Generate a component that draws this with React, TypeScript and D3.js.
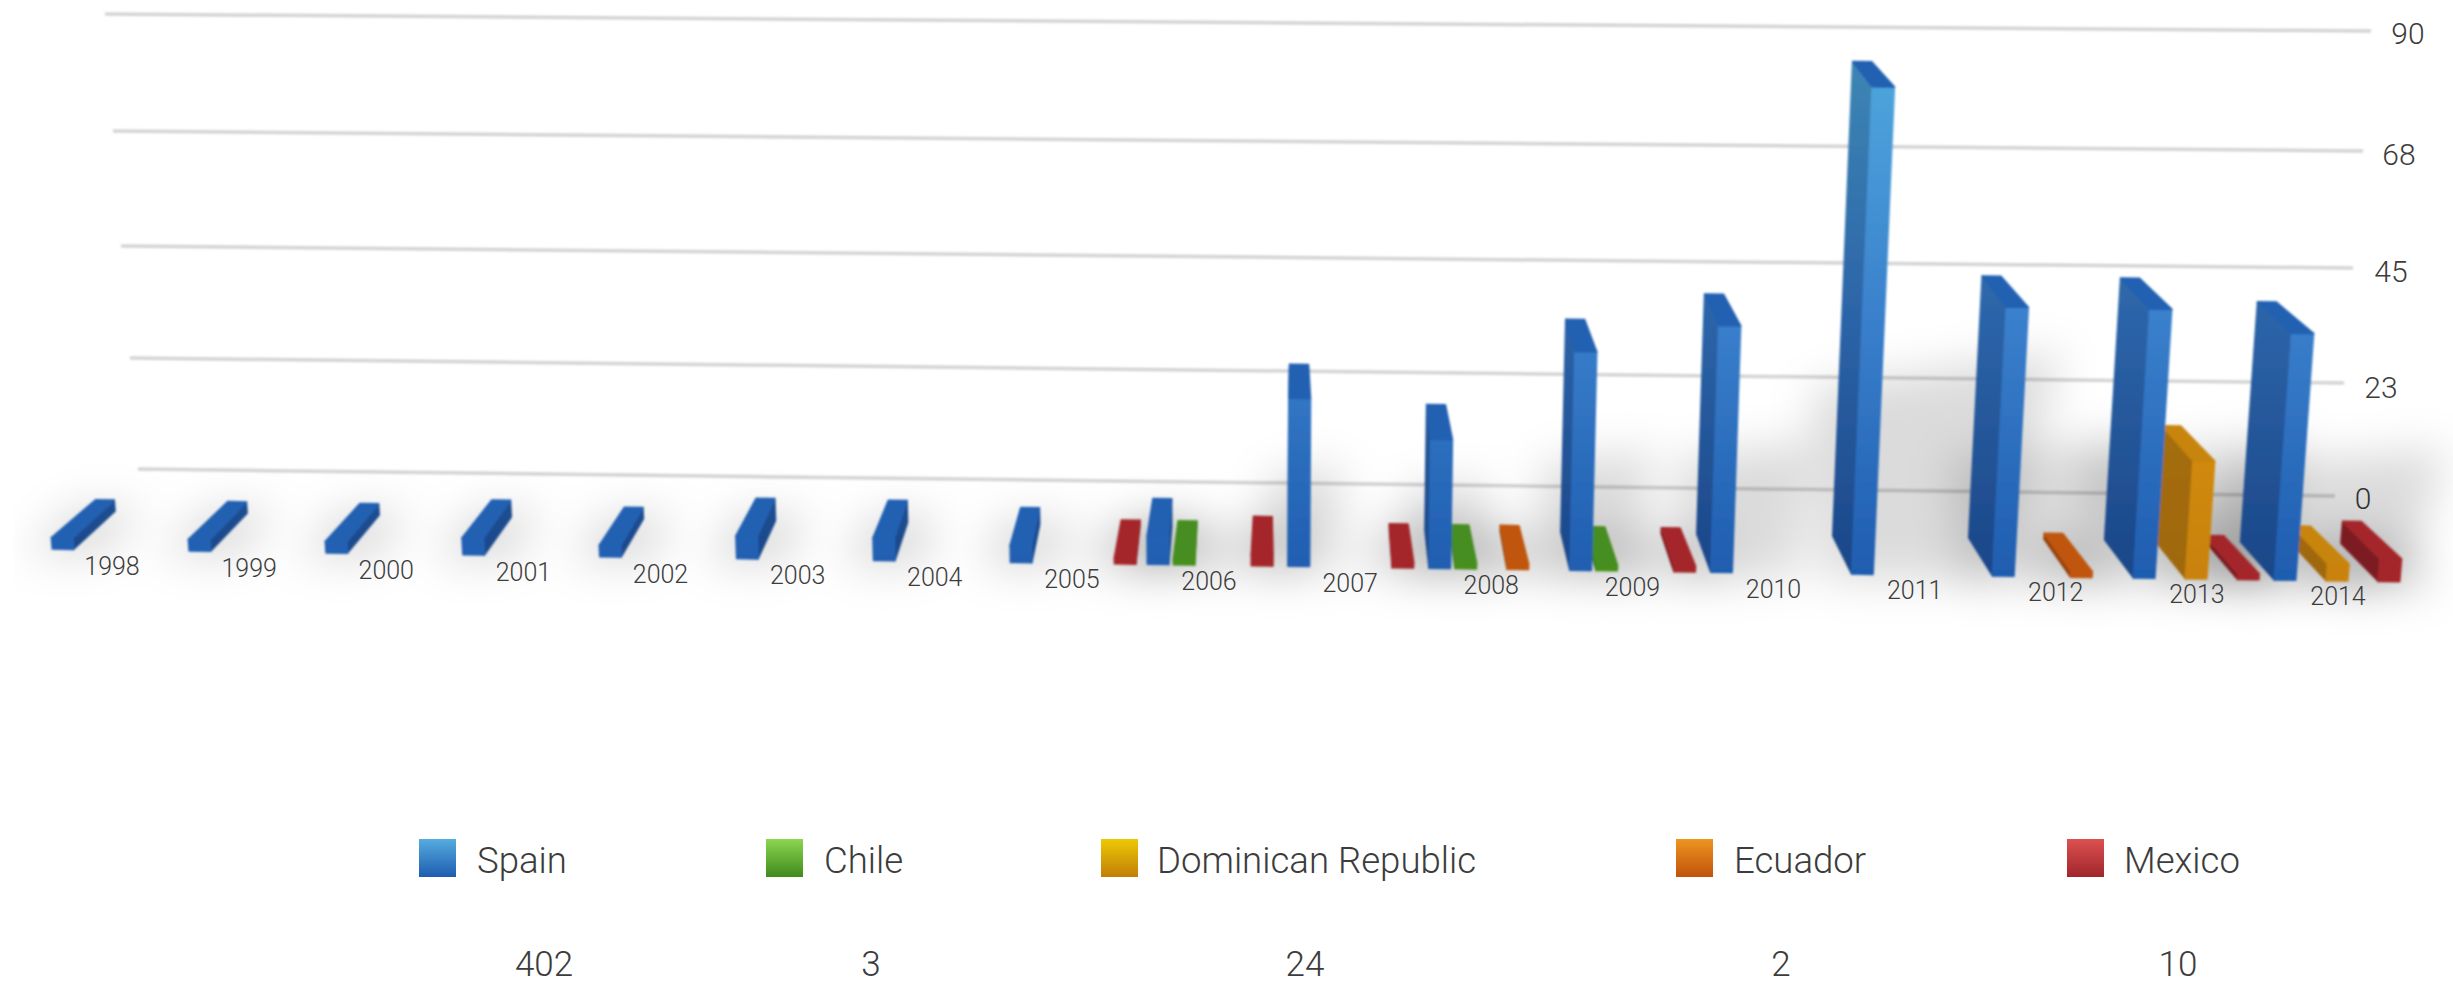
import * as d3 from "d3";

const years = [1998, 1999, 2000, 2001, 2002, 2003, 2004, 2005, 2006, 2007, 2008, 2009, 2010, 2011, 2012, 2013, 2014];
const spain = [2, 2, 2, 3, 2, 4, 4, 3, 5, 30, 23, 39, 44, 87, 48, 48, 44];
const chile = [0, 0, 0, 0, 0, 0, 0, 0, 1, 0, 1, 1, 0, 0, 0, 0, 0];
const dominican = [0, 0, 0, 0, 0, 0, 0, 0, 0, 0, 0, 0, 0, 0, 0, 21, 3];
const ecuador = [0, 0, 0, 0, 0, 0, 0, 0, 0, 0, 1, 0, 0, 0, 1, 0, 0];
const mexico = [0, 0, 0, 0, 0, 0, 0, 1, 2, 1, 0, 1, 0, 0, 0, 1, 4];
const seriesNames = ["Spain", "Chile", "Dominican Republic", "Ecuador", "Mexico"];
const seriesTotals = [402, 3, 24, 2, 10];
const axisTicks = [0, 22.5, 45, 67.5, 90];
const axisLabels = ["0", "23", "45", "68", "90"];

const seriesValues = [spain, chile, dominican, ecuador, mexico];

const W = 2453;
const H = 986;
const FONT = "Roboto, 'Liberation Sans', sans-serif";

// front / side / top colours per series
const palette = [
	{ front: ["#4fa8dd", "#3a80cc", "#1f5db0"], side: ["#3d86b4", "#2c64a8", "#1b4688"], top: "#2361b2", swatch: ["#55acdf", "#1f5cb0"] },
	{ front: ["#5fae30", "#4f9a26", "#47901f"], side: ["#3c7a1c", "#37741a", "#33701a"], top: "#478e20", swatch: ["#8cd650", "#3f8a1e"] },
	{ front: ["#e0a01a", "#d8931a", "#c9820a"], side: ["#b07a12", "#a87210", "#a0680c"], top: "#c88510", swatch: ["#ecc905", "#c27e08"] },
	{ front: ["#d8681c", "#cc5e14", "#c0560f"], side: ["#a24c10", "#9a460d", "#94420c"], top: "#c05610", swatch: ["#ee9520", "#bf530c"] },
	{ front: ["#b83034", "#ad2b2e", "#a5282b"], side: ["#8a2225", "#821f22", "#7b1e20"], top: "#a5282b", swatch: ["#dd5050", "#a0262b"] },
];

// perspective of the scene
const centerX = 1283;
const depthConverge = 0.035;
const leanOrigin = 1230;
const leanRate = 6.8e-5;
const barWidth = 21;
const slotStep = 26;

const yearX = d3.scaleLinear().domain([1998, 2006, 2014]).range([112, 1209, 2338]);
const slotStart = d3.scaleLinear().domain([1998, 2014]).range([-49, -53]);
const labelY = d3.scaleLinear().domain([1998, 2014]).range([575, 605]);
const groundY = d3.scaleLinear().domain([64, 2294]).range([549, 580]);
const heightPx = d3.scaleLinear().domain([0, 90]).range([0, 504]);

const wallLeftX = d3.scaleLinear().domain(axisTicks).range([138, 130, 121, 113, 105]);
const wallLeftY = d3.scaleLinear().domain(axisTicks).range([469, 358, 246, 131, 14]);
const wallRightX = d3.scaleLinear().domain(axisTicks).range([2335, 2344, 2353, 2363, 2371]);
const wallRightY = d3.scaleLinear().domain(axisTicks).range([496, 383, 268, 151, 31]);
const tickLabelX = d3.scaleLinear().domain(axisTicks).range([2363, 2381, 2391, 2399, 2408]);
const tickLabelY = d3.scaleLinear().domain(axisTicks).range([498, 387, 271, 154, 33]);

const legendSwatchX = [419, 766, 1101, 1676, 2067];
const legendTextX = [477, 824, 1157, 1734, 2124];
const totalX = [544, 871, 1305, 1781, 2178];

// side: -0.5 / 0.5 across the bar, d: 0 front, 1 back
const project = (cx: number, value: number, side: number, d: number): [number, number] => {
	const h = heightPx(value);
	const x = cx + side * barWidth * (1 - 0.1 * d);
	const lean = x + (x - leanOrigin) * leanRate * h;
	const yTop = groundY(cx + side * barWidth) - h;
	const depthY = 38 - 0.027 * h;
	return [lean + (centerX - lean) * depthConverge * d, yTop - depthY * d];
};

const poly = d3.line();

type Bar = { year: number; series: number; value: number; cx: number };

const bars: Bar[] = [];
seriesValues.forEach((values, series) => {
	values.forEach((value, i) => {
		if (value > 0) {
			bars.push({ year: years[i], series, value, cx: yearX(years[i]) + slotStart(years[i]) + series * slotStep });
		}
	});
});
bars.sort((a, b) => Math.abs(b.cx - centerX) - Math.abs(a.cx - centerX));

const shadowPath = (b: Bar) => {
	const h = heightPx(b.value);
	const g0 = project(b.cx, 0, -0.5, 0);
	const g1 = project(b.cx, 0, 0.5, 0);
	const g2 = project(b.cx, 0, 0.5, 1);
	const g3 = project(b.cx, 0, -0.5, 1);
	const reach = 0.38 * h;
	const drift = ((b.cx - centerX) * 0.16 * h) / 250;
	return poly([
		[g0[0] - 30, g0[1] + 6],
		[g1[0] + 30 + Math.max(drift, 0) * 0.5, g1[1] + 6],
		[g2[0] + 30 + Math.max(drift, 0), g2[1] - reach],
		[g3[0] - 20, g3[1] - reach * 0.8],
	])! + "Z";
};

const App = () => {
	return (
		<svg
			width={W}
			height={H}
			viewBox={`0 0 ${W} ${H}`}
			style={{ position: "absolute", left: 0, top: 0, display: "block", background: "#fff" }}
			fontFamily={FONT}
			fontWeight={300}
		>
			<defs>
				<filter id="ground" filterUnits="userSpaceOnUse" x={0} y={0} width={W} height={H}>
					<feGaussianBlur stdDeviation={22} />
				</filter>
				<filter id="soft" filterUnits="userSpaceOnUse" x={0} y={0} width={W} height={H}>
					<feGaussianBlur stdDeviation={0.8} />
				</filter>
				<clipPath id="shadowClip">
					<rect x={14} y={0} width={W} height={H} />
				</clipPath>
				{palette.map((p, i) => (
					<g key={i}>
						{(["front", "side"] as const).map((k) => (
							<linearGradient key={k} id={`${k}${i}`} gradientUnits="userSpaceOnUse" x1={0} y1={60} x2={0} y2={575}>
								<stop offset="0" stopColor={p[k][0]} />
								<stop offset="0.5" stopColor={p[k][1]} />
								<stop offset="1" stopColor={p[k][2]} />
							</linearGradient>
						))}
						<linearGradient id={`swatch${i}`} x1={0} y1={0} x2={0} y2={1}>
							<stop offset="0" stopColor={p.swatch[0]} />
							<stop offset="1" stopColor={p.swatch[1]} />
						</linearGradient>
					</g>
				))}
			</defs>

			{/* gridlines on the back wall */}
			<g filter="url(#soft)">
				{axisTicks.map((t) => (
					<line
						key={t}
						x1={wallLeftX(t)}
						y1={wallLeftY(t)}
						x2={wallRightX(t)}
						y2={wallRightY(t)}
						stroke="#d4d4d4"
						strokeWidth={3.5}
					/>
				))}
			</g>
			{axisTicks.map((t, i) => (
				<text
					key={t}
					x={tickLabelX(t)}
					y={tickLabelY(t)}
					fontSize={30}
					fill="#3c3c3c"
					textAnchor="middle"
					dominantBaseline="central"
				>
					{axisLabels[i]}
				</text>
			))}

			{/* soft shadow on the floor */}
			<g clipPath="url(#shadowClip)">
				<g filter="url(#ground)" fill="#000" fillOpacity={0.14}>
					{bars.map((b) => (
						<path key={`${b.year}-${b.series}`} d={shadowPath(b)} />
					))}
				</g>
			</g>

			{/* bars, far from the centre of view first */}
			<g filter="url(#soft)">
				{bars.map((b) => {
					const p = palette[b.series];
					const sideSign = b.cx < centerX ? 0.5 : -0.5;
					const frontFace = [
						project(b.cx, 0, -0.5, 0),
						project(b.cx, 0, 0.5, 0),
						project(b.cx, b.value, 0.5, 0),
						project(b.cx, b.value, -0.5, 0),
					];
					const sideFace = [
						project(b.cx, 0, sideSign, 0),
						project(b.cx, 0, sideSign, 1),
						project(b.cx, b.value, sideSign, 1),
						project(b.cx, b.value, sideSign, 0),
					];
					const topFace = [
						project(b.cx, b.value, -0.5, 0),
						project(b.cx, b.value, 0.5, 0),
						project(b.cx, b.value, 0.5, 1),
						project(b.cx, b.value, -0.5, 1),
					];
					return (
						<g key={`${b.year}-${b.series}`} strokeLinejoin="round" strokeWidth={2}>
							<path d={poly(sideFace)! + "Z"} fill={`url(#side${b.series})`} stroke={`url(#side${b.series})`} />
							<path d={poly(frontFace)! + "Z"} fill={`url(#front${b.series})`} stroke={`url(#front${b.series})`} />
							<path d={poly(topFace)! + "Z"} fill={p.top} stroke={p.top} />
						</g>
					);
				})}
			</g>

			{/* year labels */}
			{years.map((y) => (
				<text key={y} x={yearX(y)} y={labelY(y)} fontSize={25} fill="#3c3c3c" textAnchor="middle">
					{y}
				</text>
			))}

			{/* legend */}
			{seriesNames.map((name, i) => (
				<g key={name}>
					<rect x={legendSwatchX[i]} y={839} width={37} height={38} fill={`url(#swatch${i})`} />
					<text x={legendTextX[i]} y={873} fontSize={36.6} fill="#3c3c3c">
						{name}
					</text>
					<text x={totalX[i]} y={976} fontSize={35} fill="#3c3c3c" textAnchor="middle">
						{seriesTotals[i]}
					</text>
				</g>
			))}
		</svg>
	);
};

export default App;
